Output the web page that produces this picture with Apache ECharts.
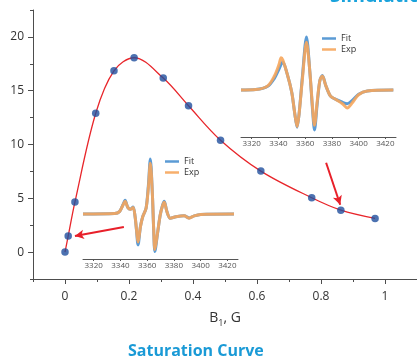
<!DOCTYPE html>
<html>
<head>
<meta charset="utf-8">
<script src="https://cdn.jsdelivr.net/npm/echarts@6/dist/echarts.min.js"></script>
<style>html,body{margin:0;padding:0;background:#fff}#c{width:417px;height:356px}</style>
</head>
<body>
<div id="c"></div>
<script>
// Main saturation data
const b1Values = [0, 0.01, 0.031, 0.096, 0.153, 0.216, 0.307, 0.386, 0.486, 0.612, 0.771, 0.862, 0.969];
const signalValues = [0, 1.5, 4.65, 12.9, 16.85, 18.06, 16.17, 13.6, 10.4, 7.53, 5.05, 3.9, 3.13];
const xMajorTicks = [0, 0.2, 0.4, 0.6, 0.8, 1];
const yMajorTicks = [0, 5, 10, 15, 20];

// Inset 1 (upper right) spectrum
const field1 = [3312, 3323, 3332, 3337, 3340.5, 3342, 3343.3, 3346.5, 3350, 3352, 3354, 3355.5, 3358, 3361, 3363.5, 3365.5, 3367, 3369, 3371, 3372.9, 3375.4, 3379, 3383, 3387.9, 3391.5, 3395.3, 3400, 3406.5, 3426];
const fit1 = [0, 0.01, 0.08, 0.25, 0.45, 0.55, 0.6, 0.35, -0.05, -0.45, -0.79, -0.5, 0.3, 1.13, 0.4, -0.4, -0.85, -0.3, 0.2, 0.31, 0.1, -0.13, -0.2, -0.26, -0.29, -0.22, -0.09, -0.02, 0];
const exp1 = [0, 0.01, 0.09, 0.3, 0.55, 0.69, 0.64, 0.35, -0.05, -0.45, -0.78, -0.5, 0.25, 1.02, 0.4, -0.35, -0.75, -0.25, 0.2, 0.3, 0.1, -0.13, -0.2, -0.29, -0.38, -0.27, -0.1, -0.02, 0];

// Inset 2 (lower left) spectrum
const field2 = [3312, 3335.6, 3339.3, 3341.8, 3343.5, 3345.5, 3347.5, 3349.5, 3351, 3352, 3353.2, 3355, 3356.7, 3359.2, 3360.9, 3362.4, 3363.9, 3364.9, 3365.8, 3367.8, 3369.8, 3371.6, 3372.8, 3374.8, 3377.3, 3381.5, 3387.7, 3391.4, 3395.2, 3400.1, 3425];
const fit2 = [0, 0.01, 0.05, 0.19, 0.29, 0.14, 0.1, 0.15, -0.06, -0.34, -0.66, -0.27, -0.06, 0.12, 0.6, 1.17, 0.44, -0.34, -0.8, -0.41, -0.02, 0.19, 0.27, 0.05, -0.09, -0.06, -0.04, -0.085, -0.04, -0.01, 0];
const exp2 = [0, 0.01, 0.05, 0.18, 0.27, 0.14, 0.1, 0.14, -0.06, -0.32, -0.6, -0.27, -0.06, 0.12, 0.55, 1.08, 0.44, -0.32, -0.76, -0.4, -0.02, 0.18, 0.25, 0.05, -0.09, -0.06, -0.04, -0.09, -0.04, -0.01, 0];
const fieldTicks = [3320, 3340, 3360, 3380, 3400, 3420];

// Annotation arrows (data coords of the main plot): [tail, head]
const arrowTails = [[0.184, 2.33], [0.816, 8.3]];
const arrowHeads = [[0.031, 1.49], [0.86, 4.4]];

const FONT = 'Open Sans';
const axisColor = '#4d4d4d';
const zip = (a, b) => a.map((v, i) => [v, b[i]]);

const chart = echarts.init(document.getElementById('c'), null, {renderer: 'canvas'});

function insetX(grid) {
  return {
    type: 'value', gridIndex: grid, min: 3312, max: 3428, position: 'bottom',
    axisLine: {show: true, onZero: false, lineStyle: {color: '#555', width: 1}},
    axisTick: {show: true, customValues: fieldTicks, length: 2, lineStyle: {color: '#555'}},
    axisLabel: {show: true, customValues: fieldTicks, fontSize: 8, color: '#555', margin: 3, fontFamily: FONT,
      formatter: v => String(Math.round(v))},
    splitLine: {show: false}
  };
}
function insetY(grid, mn, mx) {
  return {type: 'value', gridIndex: grid, min: mn, max: mx, show: false,
    axisLine: {show: false, onZero: false}, axisTick: {show: false}, axisLabel: {show: false}, splitLine: {show: false}};
}
const fitColor = '#5b9bd5';
const expColor = 'rgba(246,166,92,0.9)';

const option = {
  animation: false,
  backgroundColor: '#fff',
  textStyle: {fontFamily: FONT},
  title: {
    text: 'Saturation Curve', left: 123, top: 338,
    textStyle: {color: '#1a9ad6', fontSize: 16, fontWeight: 'bold', fontFamily: FONT}
  },
  graphic: [{
    type: 'text', x: 330, y: -13,
    style: {text: 'Simulation', fill: '#1aa3dc', font: 'bold 19px "Open Sans"', verticalAlign: 'top'}
  }],
  grid: [
    {left: 33, right: 0, top: 10, bottom: 77, containLabel: false, outerBoundsMode: 'none'},
    {left: 241, width: 155, top: 30, height: 107, containLabel: false, outerBoundsMode: 'none'},
    {left: 83, width: 155, top: 152, height: 107, containLabel: false, outerBoundsMode: 'none'}
  ],
  legend: [
    {left: 322, top: 33, orient: 'vertical', data: ['Fit', 'Exp'], icon: 'rect', itemWidth: 14, itemHeight: 2.5,
      itemGap: 0, padding: 0, textStyle: {fontSize: 9, color: '#333', fontFamily: FONT, lineHeight: 11}},
    {left: 165, top: 156, orient: 'vertical', data: ['Fit', 'Exp'], icon: 'rect', itemWidth: 14, itemHeight: 2.5,
      itemGap: 0, padding: 0, textStyle: {fontSize: 9, color: '#333', fontFamily: FONT, lineHeight: 11}}
  ],
  xAxis: [
    {
      type: 'value', gridIndex: 0, min: -0.1, max: 1.1, interval: 0.1,
      name: '{a|B}{s|1}{a|, G}', nameLocation: 'middle', nameGap: 30,
      nameTextStyle: {rich: {a: {fontSize: 14, color: '#333', fontFamily: FONT}, s: {fontSize: 9, color: '#333', fontFamily: FONT, verticalAlign: 'bottom', padding: [10, 0, 0, 0]}}},
      axisLine: {show: true, onZero: false, lineStyle: {color: axisColor, width: 1}},
      axisTick: {show: true, length: 3, lineStyle: {color: axisColor}},
      axisLabel: {fontSize: 12, color: '#333', margin: 12, fontFamily: FONT,
        formatter: v => { const k = Math.round(v * 10); return (k % 2 === 0 && k >= 0 && k <= 10) ? String(+(k / 10).toFixed(1)) : ''; }},
      splitLine: {show: false}
    },
    {
      type: 'value', gridIndex: 0, min: -0.1, max: 1.1, position: 'bottom',
      axisLine: {show: false, onZero: false},
      axisTick: {show: true, customValues: xMajorTicks, length: 5, lineStyle: {color: axisColor}},
      axisLabel: {show: false}, splitLine: {show: false}
    },
    insetX(1), insetX(2)
  ],
  yAxis: [
    {
      type: 'value', gridIndex: 0, min: -2.5, max: 22.5, interval: 2.5,
      axisLine: {show: true, onZero: false, lineStyle: {color: axisColor, width: 1}},
      axisTick: {show: true, length: 3, lineStyle: {color: axisColor}},
      axisLabel: {fontSize: 12, color: '#333', margin: 9, fontFamily: FONT,
        formatter: v => (Math.abs(v % 5) < 1e-9 && v >= 0) ? String(v) : ''},
      splitLine: {show: false}
    },
    {
      type: 'value', gridIndex: 0, min: -2.5, max: 22.5, position: 'left',
      axisLine: {show: false, onZero: false},
      axisTick: {show: true, customValues: yMajorTicks, length: 5, lineStyle: {color: axisColor}},
      axisLabel: {show: false}, splitLine: {show: false}
    },
    insetY(1, -1, 1.28), insetY(2, -0.96, 1.32)
  ],
  series: [
    {
      type: 'line', name: 'curve', xAxisIndex: 0, yAxisIndex: 0,
      data: zip(b1Values, signalValues), smooth: 0.35, symbol: 'none',
      lineStyle: {color: '#e8262b', width: 1.3}, z: 2
    },
    {
      type: 'scatter', name: 'points', xAxisIndex: 0, yAxisIndex: 0,
      data: zip(b1Values, signalValues), symbolSize: 7.5,
      itemStyle: {color: '#1f4f9e'}, z: 4,
      markLine: {
        silent: true, symbol: ['none', 'arrow'], symbolSize: [7, 9],
        label: {show: false},
        lineStyle: {color: '#e8202a', width: 2, type: 'solid'},
        data: arrowTails.map((t, i) => [{coord: t}, {coord: arrowHeads[i]}])
      }
    },
    {type: 'line', name: 'Fit', xAxisIndex: 2, yAxisIndex: 2, data: zip(field1, fit1), smooth: 0.3, symbol: 'none',
      color: fitColor, lineStyle: {color: fitColor, width: 3}, z: 3},
    {type: 'line', name: 'Exp', xAxisIndex: 2, yAxisIndex: 2, data: zip(field1, exp1), smooth: 0.3, symbol: 'none',
      color: expColor, lineStyle: {color: expColor, width: 3}, z: 3},
    {type: 'line', name: 'Fit', xAxisIndex: 3, yAxisIndex: 3, data: zip(field2, fit2), smooth: 0.3, symbol: 'none',
      color: fitColor, lineStyle: {color: fitColor, width: 3}, z: 3},
    {type: 'line', name: 'Exp', xAxisIndex: 3, yAxisIndex: 3, data: zip(field2, exp2), smooth: 0.3, symbol: 'none',
      color: expColor, lineStyle: {color: expColor, width: 3}, z: 3}
  ]
};
chart.setOption(option);
</script>
</body>
</html>
